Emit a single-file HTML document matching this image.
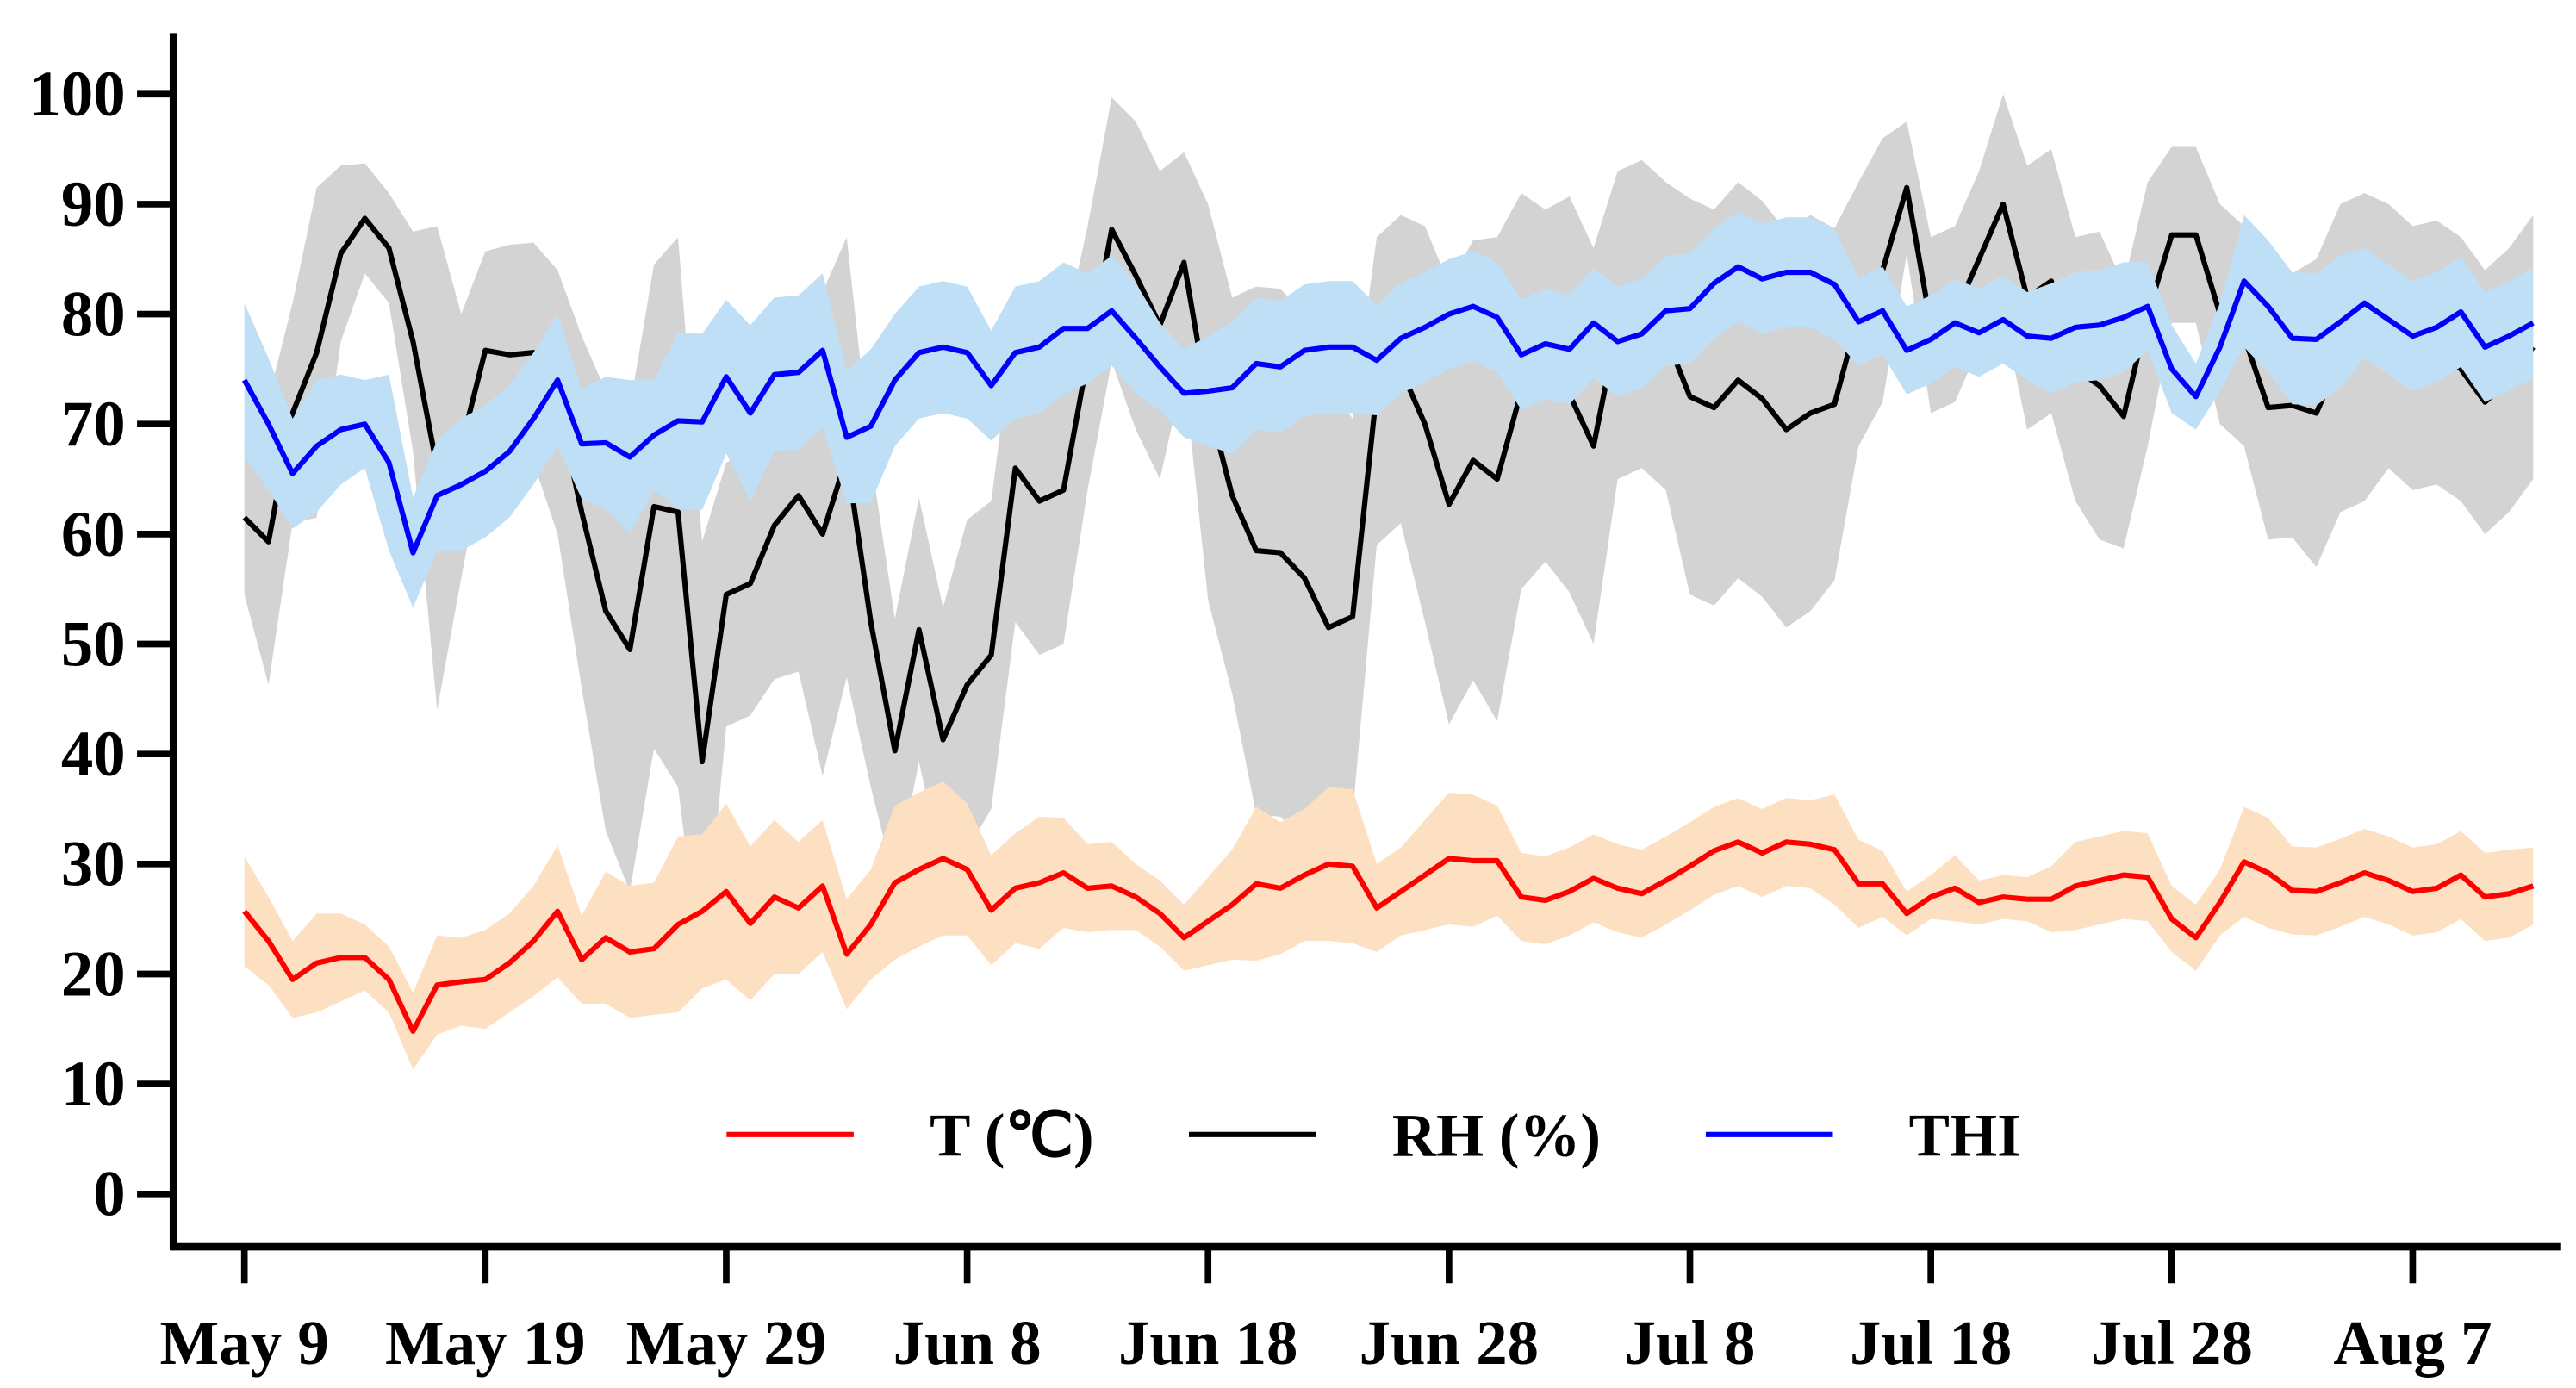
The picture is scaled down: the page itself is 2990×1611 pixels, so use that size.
<!DOCTYPE html>
<html><head><meta charset="utf-8"><style>
html,body{margin:0;padding:0;background:#fff;}
svg{display:block;}
text{font-family:"Liberation Serif",serif;font-weight:bold;fill:#000;}
</style></head><body>
<svg id="chart" width="2990" height="1611" viewBox="0 0 1560 840.5" preserveAspectRatio="none" xmlns="http://www.w3.org/2000/svg">
<g id="bands"></g><g id="lines"></g><g id="axes"></g>
</svg>
<script>
const tVals=[25.7,23,19.5,21,21.5,21.5,19.5,14.8,19,19.3,19.5,21,23,25.7,21.3,23.3,22,22.3,24.5,25.7,27.5,24.6,27,26,28,21.8,24.5,28.3,29.5,30.5,29.5,25.8,27.8,28.3,29.2,27.8,28,27,25.5,23.3,24.8,26.3,28.2,27.8,29,30,29.8,26,27.5,29,30.5,30.3,30.3,27,26.7,27.5,28.7,27.8,27.3,28.5,29.8,31.2,32,31,32,31.8,31.3,28.2,28.2,25.5,27,27.8,26.5,27,26.8,26.8,28,28.5,29,28.8,25,23.3,26.5,30.2,29.2,27.6,27.5,28.3,29.2,28.5,27.5,27.8,29,27,27.3,28];
const tSd=[5,4,3.5,4.5,4,3,3,3.5,4.5,4,4.5,4.5,5,6,4,6,6,6,8,7,8,7,7,6,6,5,5,7,7,7,6,5,5,6,5,4,4,3,3,3,4,5,7,6,6,7,7,4,4,5,6,6,5,4,4,4,4,4,4,4,4,4,4,4,4,4,5,4,3,2,2,3,2,2,2,3,4,4,4,4,3,3,3,5,5,4,4,4,4,4,4,4,4,4,4,3.5];
const rhVals=[61.5,59.3,71,76.5,85.5,88.7,86,77.5,66,68,76.7,76.3,76.5,72,62,53,49.5,62.5,62,39.3,54.5,55.5,60.8,63.5,60,67,52,40.3,51.3,41.3,46.3,49,66,63,64,76,87.7,83.5,79,84.7,72,63.5,58.5,58.3,56,51.5,52.5,73,75,70,62.7,66.7,65,73,73.5,72.7,68,79,80,78,72.5,71.5,74,72.3,69.5,71,71.8,80,84,91.5,79,80,85,90,81.5,83,75,73.5,70.7,80,87.2,87.2,80,78,71.5,71.7,71,76,77,78,76,76.5,75,72,74,77];
const rhSd=[7,13,10,15,8,5,5,10,22,12,9,10,10,12,16,20,22,22,25,20,12,12,14,16,22,20,15,12,12,12,15,14,14,14,14,12,12,14,14,10,18,18,24,24,24,22,18,14,14,18,20,20,22,18,16,18,18,14,14,14,18,18,18,18,18,18,16,12,12,6,8,8,8,10,12,12,12,14,12,12,8,8,10,10,12,12,14,14,14,12,12,12,12,12,12,12];
const thiVals=[74,70,65.5,68,69.5,70,66.5,58.3,63.5,64.5,65.7,67.5,70.5,74,68.2,68.3,67,69,70.3,70.2,74.3,71,74.5,74.7,76.7,68.8,69.8,74,76.5,77,76.5,73.5,76.5,77,78.7,78.7,80.3,77.8,75.2,72.8,73,73.3,75.5,75.2,76.7,77,77,75.8,77.8,78.8,80,80.7,79.7,76.3,77.3,76.8,79.2,77.5,78.2,80.3,80.5,82.8,84.3,83.2,83.8,83.8,82.7,79.3,80.3,76.7,77.7,79.2,78.3,79.5,78,77.8,78.8,79,79.7,80.7,75,72.5,77,83,80.7,77.8,77.7,79.3,81,79.5,78,78.8,80.2,77,78,79.2];
const thiSd=[7,6,5,6,5,4,8,5,5,6,6,6,6,6,5,6,7,5,8,8,7,8,7,7,7,6,7,6,6,6,6,5,6,6,6,5,5,5,4,4,5,6,6,6,6,6,6,5,5,5,5,5,5,5,5,5,5,5,5,5,5,5,5,5,5,5,5,4,4,4,4,4,4,4,4,5,5,5,5,4,4,3,4,6,6,6,6,6,5,5,5,5,5,5,5,5];
const yTicks=[0,10,20,30,40,50,60,70,80,90,100];
const xLabels=["May 9","May 19","May 29","Jun 8","Jun 18","Jun 28","Jul 8","Jul 18","Jul 28","Aug 7"];
const xTickDays=[0,10,20,30,40,50,60,70,80,90];

const NS="http://www.w3.org/2000/svg";
const X0=148, DX=14.59;
function xs(i){return X0+DX*i;}
function ys(v){return 723-6.66*v;}
function mk(tag,attrs,parent){const e=document.createElementNS(NS,tag);for(const k in attrs)e.setAttribute(k,attrs[k]);parent.appendChild(e);return e;}
const bands=document.getElementById('bands'),axes=document.getElementById('axes');
function bandPath(v,sd){let up=v.map((d,i)=>xs(i)+','+ys(d+sd[i]));let lo=v.map((d,i)=>xs(i)+','+ys(Math.max(0,d-sd[i]))).reverse();return 'M'+up.join('L')+'L'+lo.join('L')+'Z';}
function linePath(v){return 'M'+v.map((d,i)=>xs(i)+','+ys(d)).join('L');}
let g1=mk('path',{d:bandPath(rhVals,rhSd),fill:'#d3d3d3'},bands);


let l1=mk('path',{d:linePath(rhVals),fill:'none',stroke:'#000','stroke-width':3.2,'stroke-linejoin':'round'},bands);


let g2=mk('path',{d:bandPath(thiVals,thiSd),fill:'#bfdff7'},bands);


let l2=mk('path',{d:linePath(thiVals),fill:'none',stroke:'#0000ff','stroke-width':3.2,'stroke-linejoin':'round'},bands);


let g3=mk('path',{d:bandPath(tVals,tSd),fill:'#fde0c2'},bands);


let l3=mk('path',{d:linePath(tVals),fill:'none',stroke:'#ff0000','stroke-width':3.2,'stroke-linejoin':'round'},bands);



let ya=mk('line',{x1:105,y1:20,x2:105,y2:757,stroke:'#000','stroke-width':4.5},axes);


let xa=mk('line',{x1:103,y1:755,x2:1551,y2:755,stroke:'#000','stroke-width':4.5},axes);


yTicks.forEach(v=>{
  let t=mk('line',{x1:83,y1:ys(v),x2:105,y2:ys(v),stroke:'#000','stroke-width':4},axes);
  
  
  let l=mk('text',{x:76,y:ys(v)+13,'text-anchor':'end','font-size':39},axes);
  l.textContent=v;
  
  
});
xTickDays.forEach((d,k)=>{
  let t=mk('line',{x1:xs(d),y1:755,x2:xs(d),y2:777,stroke:'#000','stroke-width':4},axes);
  
  
  let l=mk('text',{x:xs(d),y:826,'text-anchor':'middle','font-size':38},axes);
  l.textContent=xLabels[k];
  
  
});
const legNames=["T (℃)","RH (%)","THI"],legColors=["#ff0000","#000000","#0000ff"],legX=[440,720,1033];
legNames.forEach((n,k)=>{
  let s=mk('line',{x1:legX[k],y1:687,x2:legX[k]+77,y2:687,stroke:legColors[k],'stroke-width':3.2},axes);
  
  
  let t=mk('text',{x:legX[k]+123,y:700,'font-size':37},axes);
  t.textContent=n;
  
  
});
</script>
</body></html>
